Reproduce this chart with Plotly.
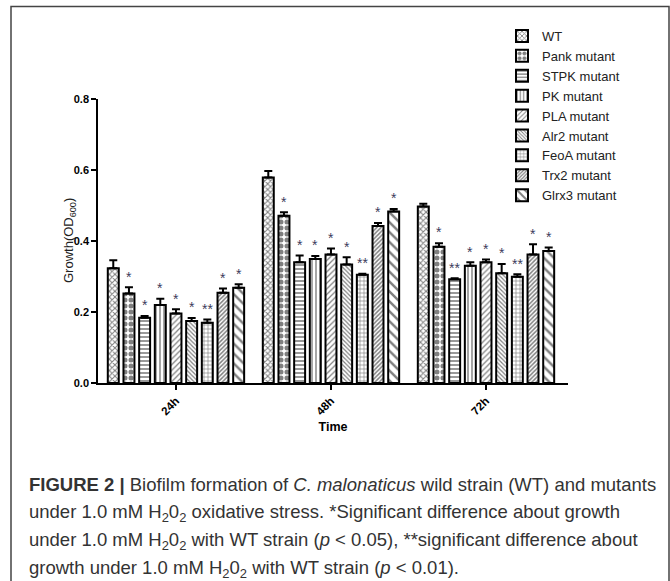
import plotly.graph_objects as go

# ---------------- data ----------------
time_labels = ["24h", "48h", "72h"]
strains = ["WT", "Pank mutant", "STPK mutant", "PK mutant", "PLA mutant",
           "Alr2 mutant", "FeoA mutant", "Trx2 mutant", "Glrx3 mutant"]

wt     = [0.323, 0.579, 0.497]
pank   = [0.252, 0.471, 0.384]
stpk   = [0.184, 0.340, 0.292]
pk     = [0.220, 0.349, 0.330]
pla    = [0.196, 0.362, 0.340]
alr2   = [0.175, 0.334, 0.309]
feoa   = [0.170, 0.305, 0.299]
trx2   = [0.254, 0.442, 0.362]
glrx3  = [0.268, 0.483, 0.372]

wt_err    = [0.023, 0.018, 0.008]
pank_err  = [0.018, 0.010, 0.010]
stpk_err  = [0.005, 0.019, 0.003]
pk_err    = [0.017, 0.009, 0.010]
pla_err   = [0.012, 0.017, 0.008]
alr2_err  = [0.008, 0.020, 0.026]
feoa_err  = [0.009, 0.003, 0.007]
trx2_err  = [0.012, 0.009, 0.029]
glrx3_err = [0.010, 0.007, 0.010]

wt_sig    = ["", "", ""]
pank_sig  = ["*", "*", "*"]
stpk_sig  = ["*", "*", "**"]
pk_sig    = ["*", "*", "*"]
pla_sig   = ["*", "*", "*"]
alr2_sig  = ["*", "*", "*"]
feoa_sig  = ["**", "**", "**"]
trx2_sig  = ["*", "*", "*"]
glrx3_sig = ["*", "*", "*"]

values = [wt, pank, stpk, pk, pla, alr2, feoa, trx2, glrx3]
errors = [wt_err, pank_err, stpk_err, pk_err, pla_err, alr2_err, feoa_err, trx2_err, glrx3_err]
sigs = [wt_sig, pank_sig, stpk_sig, pk_sig, pla_sig, alr2_sig, feoa_sig, trx2_sig, glrx3_sig]

# ---------------- styles ----------------
patterns = [
    dict(shape="x", size=4, solidity=0.45),
    dict(shape=".", size=6, solidity=0.55),
    dict(shape="-", size=4, solidity=0.4),
    dict(shape="|", size=4, solidity=0.35),
    dict(shape="/", size=4, solidity=0.3),
    dict(shape="\\", size=3, solidity=0.4),
    dict(shape="+", size=4, solidity=0.3),
    dict(shape="/", size=3, solidity=0.5),
    dict(shape="\\", size=7, solidity=0.35),
]

W, H = 670, 581
L, R, T, B = 98, 102, 99, 198
pw, ph = W - L - R, H - T - B

def px2x(px):
    return (px - L) / pw

def py2y(py):
    return (H - B - py) / ph

bargap = 0.09
xpos = [0, 1, 2]

fig = go.Figure()
for i, name in enumerate(strains):
    fig.add_trace(go.Bar(
        name=name, x=xpos, y=values[i],
        marker=dict(color="white", line=dict(color="black", width=2),
                    pattern=dict(fgcolor="black", bgcolor="white", **patterns[i])),
        error_y=dict(type="data", array=errors[i], arrayminus=[0, 0, 0],
                     symmetric=False, color="black", thickness=2, width=4),
    ))

# significance marks
n = len(strains)
pitch = (1 - bargap) / n
annotations = []
for i in range(n):
    for j in range(3):
        if sigs[i][j]:
            annotations.append(dict(
                x=xpos[j] + (i - (n - 1) / 2) * pitch,
                y=values[i][j] + errors[i][j] + 0.03,
                text=sigs[i][j], showarrow=False, xanchor="center", yanchor="middle",
                font=dict(size=14, color="#3b3b5c", family="Liberation Sans")))

# y axis title
annotations.append(dict(
    x=px2x(69), y=0.5, xref="paper", yref="paper", text="Growth(OD<sub>600</sub>)",
    textangle=-90, showarrow=False, xanchor="center", yanchor="middle",
    font=dict(size=13, color="#222222", family="Liberation Sans")))

caption_lines = [
    "<b>FIGURE 2 |</b> Biofilm formation of <i>C. malonaticus</i> wild strain (WT) and mutants",
    "under 1.0 mM H<sub>2</sub>0<sub>2</sub> oxidative stress. *Significant difference about growth",
    "under 1.0 mM H<sub>2</sub>0<sub>2</sub> with WT strain (<i>p</i> &lt; 0.05), **significant difference about",
    "growth under 1.0 mM H<sub>2</sub>0<sub>2</sub> with WT strain (<i>p</i> &lt; 0.01).",
]
caption_y = [484, 513, 541, 569]
for line, cy in zip(caption_lines, caption_y):
    annotations.append(dict(
        x=px2x(27), y=py2y(cy), xref="paper", yref="paper", text=line,
        showarrow=False, xanchor="left", yanchor="middle", align="left",
        font=dict(size=18.5, color="#333333", family="Liberation Sans")))

fig.update_layout(
    width=W, height=H,
    margin=dict(l=L, r=R, t=T, b=B, autoexpand=False),
    paper_bgcolor="white", plot_bgcolor="white",
    barmode="group", bargap=bargap, bargroupgap=0.3,
    font=dict(family="Liberation Sans", color="black"),
    showlegend=True,
    legend=dict(x=px2x(502), y=py2y(21), xanchor="left", yanchor="top",
                font=dict(size=13, color="#222222"), bgcolor="rgba(0,0,0,0)",
                tracegroupgap=0, itemwidth=30),
    annotations=annotations,
    shapes=[dict(type="rect", xref="paper", yref="paper",
                 x0=px2x(11), x1=px2x(669), y0=py2y(620), y1=py2y(6.5),
                 line=dict(color="#444444", width=1.5), layer="below")],
    xaxis=dict(range=[-0.503, 2.529], tickvals=xpos, ticktext=time_labels,
               tickangle=-45, showline=True, linecolor="black", linewidth=1.5,
               ticks="outside", ticklen=5, tickwidth=1.5, tickcolor="black",
               showgrid=False, zeroline=False,
               tickfont=dict(size=11.5, family="Liberation Sans", color="black", weight="bold"),
               title=dict(text="<b>Time</b>", font=dict(size=12.5, color="black"), standoff=6)),
    yaxis=dict(range=[0, 0.8], tickvals=[0, 0.2, 0.4, 0.6, 0.8], tickformat=".1f",
               showline=True, linecolor="black", linewidth=1.5,
               ticks="outside", ticklen=5, tickwidth=1.5, tickcolor="black",
               showgrid=False, zeroline=False,
               tickfont=dict(size=11, family="Liberation Sans", color="black", weight="bold")),
)

fig.write_html("out.html", config={"displayModeBar": False},
               post_script="document.body.style.margin='0px';document.body.style.overflow='hidden';")
